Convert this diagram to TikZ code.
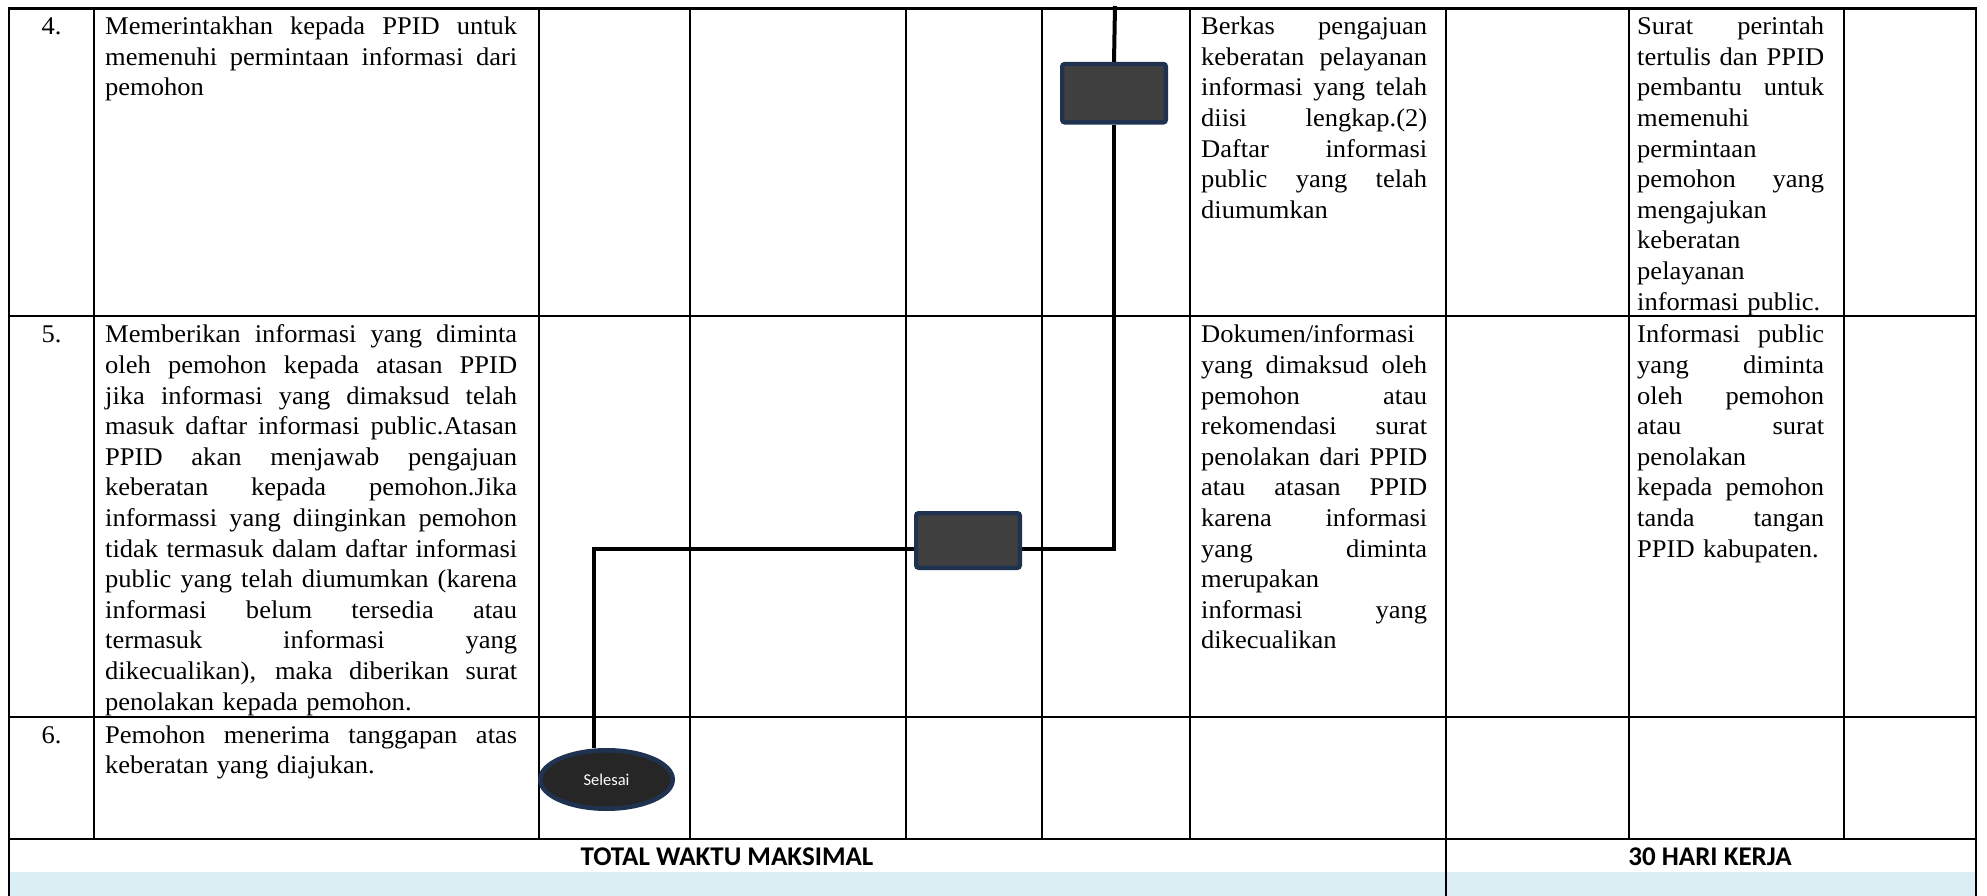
\documentclass[tikz,border=0pt]{standalone}
\usepackage{fontspec}
\setmainfont{Liberation Serif}[FakeStretch=1.04]
\newfontfamily\calibri{Carlito}
\usetikzlibrary{shapes.geometric,calc,backgrounds}

\definecolor{boxfill}{HTML}{404040}
\definecolor{navy}{HTML}{1F3350}
\definecolor{ovalfill}{HTML}{262626}
\definecolor{lightblue}{HTML}{DAEEF3}

\newlength\cellw
\newcommand\jline[1]{\noindent\hbox to\cellw{\spaceskip=\fontdimen2\font plus 1fil\relax\strut #1}\par}
\newcommand\lline[1]{\noindent\hbox to\cellw{\strut #1\hfil}\par}

\begin{document}
\begin{tikzpicture}[x=1pt,y=-1pt,
  tline/.style={line width=2.5pt, black, line cap=rect},
  conn/.style={line width=4pt, black},
  procbox/.style={draw=navy, line width=4.3pt, fill=boxfill, rounded corners=2.5pt, inner sep=0pt, minimum width=103.7pt},
  endoval/.style={ellipse, draw=navy, line width=4.5pt, fill=ovalfill, inner sep=0pt, minimum width=132.5pt, minimum height=58.5pt, text=white, font=\calibri\fontsize{16.5}{19}\selectfont},
  celltext/.style={anchor=north west, inner sep=0pt, font=\fontsize{25.5}{30.6}\selectfont},
  numtext/.style={anchor=base, inner sep=0pt, font=\fontsize{25.5}{30.6}\selectfont},
  totaltext/.style={anchor=base, inner sep=0pt, font=\calibri\bfseries\fontsize{27}{30}\selectfont}
]
\useasboundingbox (0,0) rectangle (1987,896);

% light blue band
\fill[lightblue] (9,872) rectangle (1976,896);

% table grid
\foreach \x in {94,539,690,906,1042,1190,1629,1844}
  \draw[tline] (\x,8.5) -- (\x,839);
\foreach \x in {9,1446,1976}
  \draw[tline] (\x,8.5) -- (\x,896);
\foreach \y in {8.5,316,717,839}
  \draw[tline] (9,\y) -- (1976,\y);

% row numbers
\node[numtext] (n4) at (51.5,34.5) {4.};
\node[numtext] (n5) at (51.5,342.6) {5.};
\node[numtext] (n6) at (51.5,743) {6.};

% descriptions
\node[celltext, text width=412pt] (d4) at (105,13.1) {\setlength\cellw{412pt}%
\jline{Memerintakhan kepada PPID untuk}
\jline{memenuhi permintaan informasi dari}
\lline{pemohon}};

\node[celltext, text width=412pt] (d5) at (105,321.2) {\setlength\cellw{412pt}%
\jline{Memberikan informasi yang diminta}
\jline{oleh pemohon kepada atasan PPID}
\jline{jika informasi yang dimaksud telah}
\jline{masuk daftar informasi public.Atasan}
\jline{PPID akan menjawab pengajuan}
\jline{keberatan kepada pemohon.Jika}
\jline{informassi yang diinginkan pemohon}
\jline{tidak termasuk dalam daftar informasi}
\jline{public yang telah diumumkan (karena}
\jline{informasi belum tersedia atau}
\jline{termasuk informasi yang}
\jline{dikecualikan), maka diberikan surat}
\lline{penolakan kepada pemohon.}};

\node[celltext, text width=412pt] (d6) at (105,721.6) {\setlength\cellw{412pt}%
\jline{Pemohon menerima tanggapan atas}
\lline{keberatan yang diajukan.}};

% kelengkapan column
\node[celltext, text width=226pt] (k4) at (1201,13.1) {\setlength\cellw{226pt}%
\jline{Berkas pengajuan}
\jline{keberatan pelayanan}
\jline{informasi yang telah}
\jline{diisi lengkap.(2)}
\jline{Daftar informasi}
\jline{public yang telah}
\lline{diumumkan}};

\node[celltext, text width=226pt] (k5) at (1201,321.2) {\setlength\cellw{226pt}%
\lline{Dokumen/informasi}
\jline{yang dimaksud oleh}
\jline{pemohon atau}
\jline{rekomendasi surat}
\jline{penolakan dari PPID}
\jline{atau atasan PPID}
\jline{karena informasi}
\jline{yang diminta}
\lline{merupakan}
\jline{informasi yang}
\lline{dikecualikan}};

% output column
\node[celltext, text width=187pt] (o4) at (1637,13.1) {\setlength\cellw{187pt}%
\jline{Surat perintah}
\jline{tertulis dan PPID}
\jline{pembantu untuk}
\lline{memenuhi}
\lline{permintaan}
\jline{pemohon yang}
\lline{mengajukan}
\lline{keberatan}
\lline{pelayanan}
\lline{informasi public.}};

\node[celltext, text width=187pt] (o5) at (1637,321.2) {\setlength\cellw{187pt}%
\jline{Informasi public}
\jline{yang diminta}
\jline{oleh pemohon}
\jline{atau surat}
\lline{penolakan}
\jline{kepada pemohon}
\jline{tanda tangan}
\lline{PPID kabupaten.}};

% totals
\node[totaltext] (tot) at (727,865) {TOTAL WAKTU MAKSIMAL};
\node[totaltext] (hari) at (1710,865) {30 HARI KERJA};

% flow shapes
\coordinate (topin) at (1115,6);
\coordinate (bend) at (594,549);
\node[procbox, minimum height=58.4pt] (box1) at (1114,93.2) {};
\node[procbox, minimum height=54.7pt] (box2) at (968,540.5) {};
\node[endoval] (sel) at (606.5,779.5) {Selesai};

\begin{scope}[on background layer]
\draw[conn] (topin) -- (box1.north);
\draw[conn] (box1.south) -- (box1.south |- bend) -- (box2.east |- bend);
\draw[conn] (box2.west |- bend) -- (bend) -- (bend |- sel.north);
\end{scope}
\end{tikzpicture}
\end{document}
